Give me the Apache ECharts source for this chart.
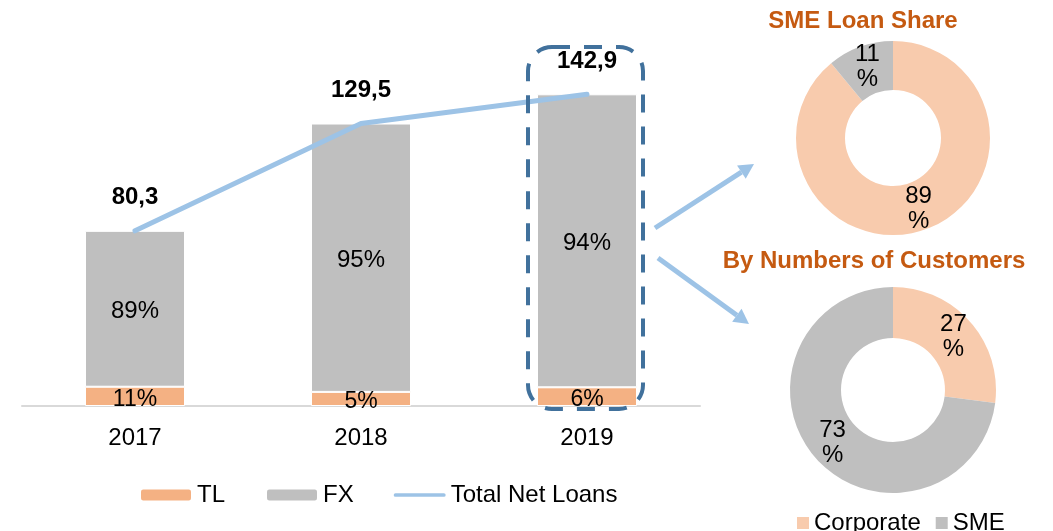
<!DOCTYPE html>
<html>
<head>
<meta charset="utf-8">
<script src="https://cdn.jsdelivr.net/npm/echarts@6/dist/echarts.min.js"></script>
<style>
html,body{margin:0;padding:0;background:#fff;}
#main{width:1053px;height:531px;}
</style>
</head>
<body>
<div id="main"></div>
<script>
const categories = ['2017', '2018', '2019'];
const totalNetLoans = [80.3, 129.5, 142.9];
const tlShare = [11, 5, 6];
const fxShare = [89, 95, 94];
const pieNames = ['Corporate', 'SME'];
const loanShareValues = [89, 11];
const customerShareValues = [27, 73];

const FONT = '"Liberation Sans", Arial, sans-serif';
const C_TL = '#F4B183', C_FX = '#BFBFBF', C_LINE = '#9DC3E6', C_CORP = '#F8CBAD', C_TITLE = '#C55A11';
const FS = 24;

const tlValues = totalNetLoans.map((t, i) => t * tlShare[i] / 100);
const fxValues = totalNetLoans.map((t, i) => t * fxShare[i] / 100);

const chart = echarts.init(document.getElementById('main'), null, {renderer: 'canvas'});

const pieLabel = {
  show: true, position: 'inside', color: '#000', fontFamily: FONT, fontSize: FS, lineHeight: 25,
  formatter: p => p.value + '\n%'
};

const option = {
  animation: false,
  textStyle: {fontFamily: FONT},
  title: [
    {text: 'SME Loan Share', left: 858, top: 4, textAlign: 'center',
     textStyle: {color: C_TITLE, fontSize: 24, fontWeight: 'bold', fontFamily: FONT}},
    {text: 'By Numbers of Customers', left: 869, top: 244, textAlign: 'center',
     textStyle: {color: C_TITLE, fontSize: 24, fontWeight: 'bold', fontFamily: FONT}}
  ],
  legend: [
    {data: ['TL', 'FX', {name: 'Total Net Loans', icon: 'path://M2,0 L54,0 A2,2 0 0 1 54,4 L2,4 A2,2 0 0 1 2,0 Z'}],
     left: 134, top: 478, itemWidth: 52, itemHeight: 13, itemGap: 40,
     textStyle: {fontSize: FS, color: '#000', fontFamily: FONT}},
    {data: pieNames, left: 792, top: 506, itemWidth: 12, itemHeight: 12, itemGap: 15, icon: 'rect',
     textStyle: {fontSize: FS, color: '#000', fontFamily: FONT}}
  ],
  grid: {left: 22, right: 353, top: 57, bottom: 125},
  xAxis: {
    type: 'category', data: categories,
    axisLine: {lineStyle: {color: '#D9D9D9', width: 2}},
    axisTick: {show: false},
    axisLabel: {fontSize: FS, color: '#000', margin: 20, fontFamily: FONT}
  },
  yAxis: {type: 'value', min: 0, max: 160, show: false, splitLine: {show: false}},
  series: [
    {name: 'TL', type: 'bar', stack: 'loans', data: tlValues, barWidth: 100,
     itemStyle: {color: C_TL, borderColor: '#fff', borderWidth: 1},
     label: {show: true, position: 'inside', offset: [0, 3], color: '#000', fontSize: 23, fontFamily: FONT,
             formatter: p => tlShare[p.dataIndex] + '%'}},
    {name: 'FX', type: 'bar', stack: 'loans', data: fxValues, barWidth: 100,
     itemStyle: {color: C_FX, borderColor: '#fff', borderWidth: 1},
     label: {show: true, position: 'inside', offset: [0, 3], color: '#000', fontSize: FS, fontFamily: FONT,
             formatter: p => fxShare[p.dataIndex] + '%'}},
    {name: 'Total Net Loans', type: 'line', data: totalNetLoans, symbol: 'circle', symbolSize: 0.1, showSymbol: true,
     z: 5, color: C_LINE,
     lineStyle: {color: C_LINE, width: 5, cap: 'round'},
     itemStyle: {color: C_LINE},
     label: {show: true, position: 'top', distance: 21, color: '#000', opacity: 1, fontSize: FS, fontWeight: 'bold', fontFamily: FONT,
             formatter: p => p.value.toFixed(1).replace('.', ',')}},
    {name: 'SME Loan Share', type: 'pie', center: [893, 138], radius: [48, 97],
     data: pieNames.map((n, i) => ({name: n, value: loanShareValues[i]})),
     color: [C_CORP, C_FX], label: pieLabel, labelLine: {show: false}, emphasis: {disabled: true}},
    {name: 'By Numbers of Customers', type: 'pie', center: [893, 390], radius: [52, 103],
     data: pieNames.map((n, i) => ({name: n, value: customerShareValues[i]})),
     color: [C_CORP, C_FX], label: pieLabel, labelLine: {show: false}, emphasis: {disabled: true}}
  ]
};
chart.setOption(option);

// Decorations: dashed highlight box around 2019 and arrows toward the donuts
const cx = chart.convertToPixel({xAxisIndex: 0}, categories[2]);
function arrow(x1, y1, x2, y2) {
  const dx = x2 - x1, dy = y2 - y1, L = Math.hypot(dx, dy), ux = dx / L, uy = dy / L;
  const head = 15, hw = 8;
  const bx = x2 - ux * head, by = y2 - uy * head;
  return [
    {type: 'line', shape: {x1: x1, y1: y1, x2: bx, y2: by}, style: {stroke: C_LINE, lineWidth: 5}},
    {type: 'polygon', shape: {points: [[x2, y2], [bx - uy * hw, by + ux * hw], [bx + uy * hw, by - ux * hw]]},
     style: {fill: C_LINE}}
  ];
}
chart.setOption({
  graphic: [
    {type: 'rect', shape: {x: cx - 59, y: 47, width: 115, height: 362, r: 24}, z: 10,
     style: {fill: null, stroke: '#41719C', lineWidth: 4, lineDash: [18, 14]}},
    ...arrow(655, 228, 754, 164),
    ...arrow(658, 258, 749, 324)
  ]
});
</script>
</body>
</html>
